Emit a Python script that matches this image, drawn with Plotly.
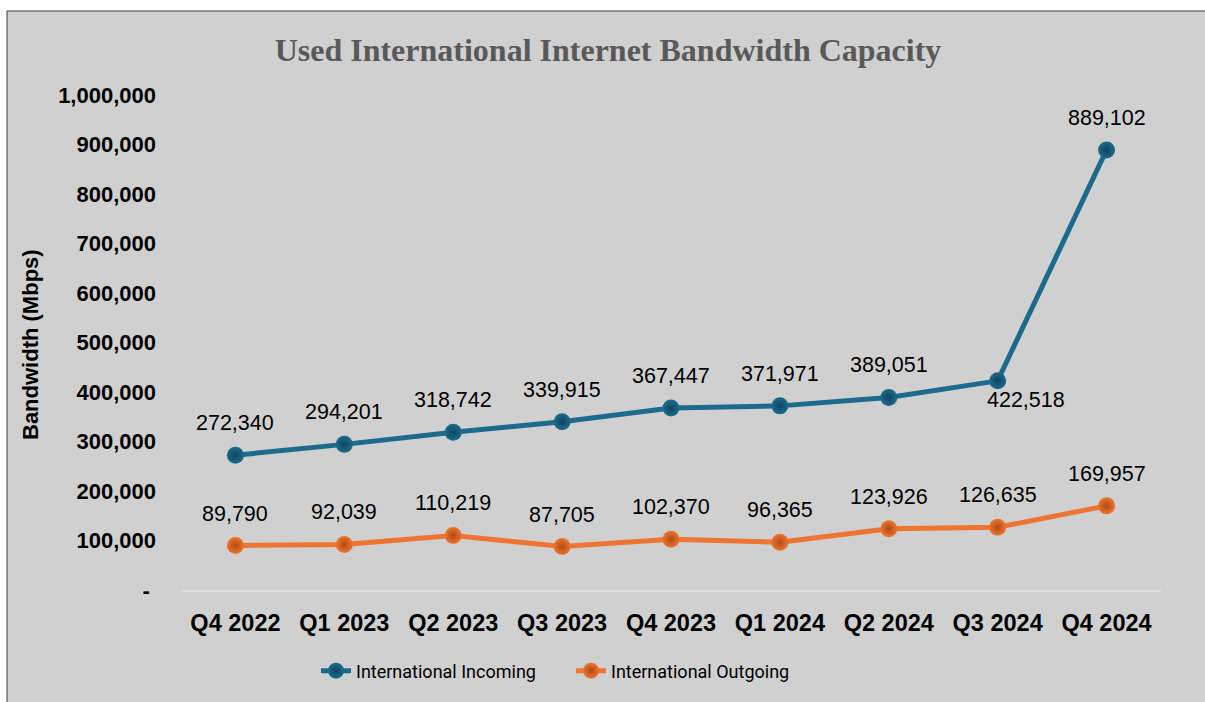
import plotly.graph_objects as go

categories = ["Q4 2022", "Q1 2023", "Q2 2023", "Q3 2023", "Q4 2023",
              "Q1 2024", "Q2 2024", "Q3 2024", "Q4 2024"]
incoming = [272340, 294201, 318742, 339915, 367447, 371971, 389051, 422518, 889102]
outgoing = [89790, 92039, 110219, 87705, 102370, 96365, 123926, 126635, 169957]
series_names = ["International Incoming", "International Outgoing"]
y_ticks = [0, 100000, 200000, 300000, 400000, 500000, 600000, 700000, 800000, 900000, 1000000]

BLUE = "#1d6b8c"
BLUE_DARK = "#0f4560"
ORANGE = "#ed7431"
ORANGE_DARK = "#b04a12"
BG = "#d0d0d0"

W, H = 1205, 702
ML, MR, MT, MB = 181, 44, 95, 112
PW, PH = W - ML - MR, H - MT - MB

def px_x(p):
    return (p - ML) / PW

def px_y(p):
    return (H - MB - p) / PH

fig = go.Figure()
for name, vals, col, dark in [(series_names[0], incoming, BLUE, BLUE_DARK),
                              (series_names[1], outgoing, ORANGE, ORANGE_DARK)]:
    fig.add_trace(go.Scatter(
        x=categories, y=vals, name=name, mode="lines+markers",
        line=dict(color=col, width=5),
        marker=dict(size=17, color=col, gradient=dict(type="radial", color=dark),
                    line=dict(width=0)),
        hoverinfo="skip",
    ))

annotations = []
for si, vals in enumerate([incoming, outgoing]):
    for i, (c, v) in enumerate(zip(categories, vals)):
        xs, ys = 0, 32
        if si == 0 and i == 7:
            xs, ys = 28, -19
        annotations.append(dict(
            x=c, y=v, xref="x", yref="y", text=f"{v:,}", showarrow=False,
            xshift=xs, yshift=ys, font=dict(family="Liberation Sans", size=21.5, color="#000000"),
            xanchor="center", yanchor="middle",
        ))

annotations.append(dict(
    x=px_x(30), y=px_y(345), xref="paper", yref="paper", text="<b>Bandwidth (Mbps)</b>",
    textangle=-90, showarrow=False, xanchor="center", yanchor="middle",
    font=dict(family="Liberation Sans", size=22, color="#000000"),
))

fig.update_layout(
    width=W, height=H,
    margin=dict(l=ML, r=MR, t=MT, b=MB, pad=0),
    paper_bgcolor="#ffffff",
    plot_bgcolor="rgba(0,0,0,0)",
    title=dict(text="<b>Used International Internet Bandwidth Capacity</b>",
               x=608 / W, xref="container", xanchor="center",
               y=1 - 50 / H, yref="container", yanchor="middle",
               font=dict(family="Liberation Serif", size=32, color="#595959")),
    showlegend=True,
    legend=dict(orientation="h", x=px_x(316), xanchor="left", y=px_y(671), yanchor="middle",
                bgcolor="rgba(0,0,0,0)", entrywidth=210, entrywidthmode="pixels",
                font=dict(family="Roboto", size=18, color="#000000")),
    xaxis=dict(type="category", range=[-0.5, 8.5], showgrid=False, zeroline=False, showline=True,
               linecolor="#dedede", linewidth=2, ticks="",
               tickfont=dict(family="Liberation Sans", size=23.5, color="#000000", weight="bold"),
               ticklabelstandoff=11, fixedrange=True),
    yaxis=dict(range=[0, 1000000], showgrid=False, zeroline=False, showline=False,
               tickvals=y_ticks,
               ticktext=["-\u00a0" if v == 0 else f"{v:,}" for v in y_ticks],
               ticks="", ticklabelstandoff=24,
               tickfont=dict(family="Liberation Sans", size=22, color="#000000", weight="bold"),
               fixedrange=True),
    annotations=annotations,
    shapes=[dict(type="rect", xref="paper", yref="paper", layer="below",
                 x0=px_x(7), x1=px_x(1215), y0=px_y(720), y1=px_y(11),
                 fillcolor=BG, line=dict(color="#3a3a3a", width=1))],
)

fig.write_html("out.html")
